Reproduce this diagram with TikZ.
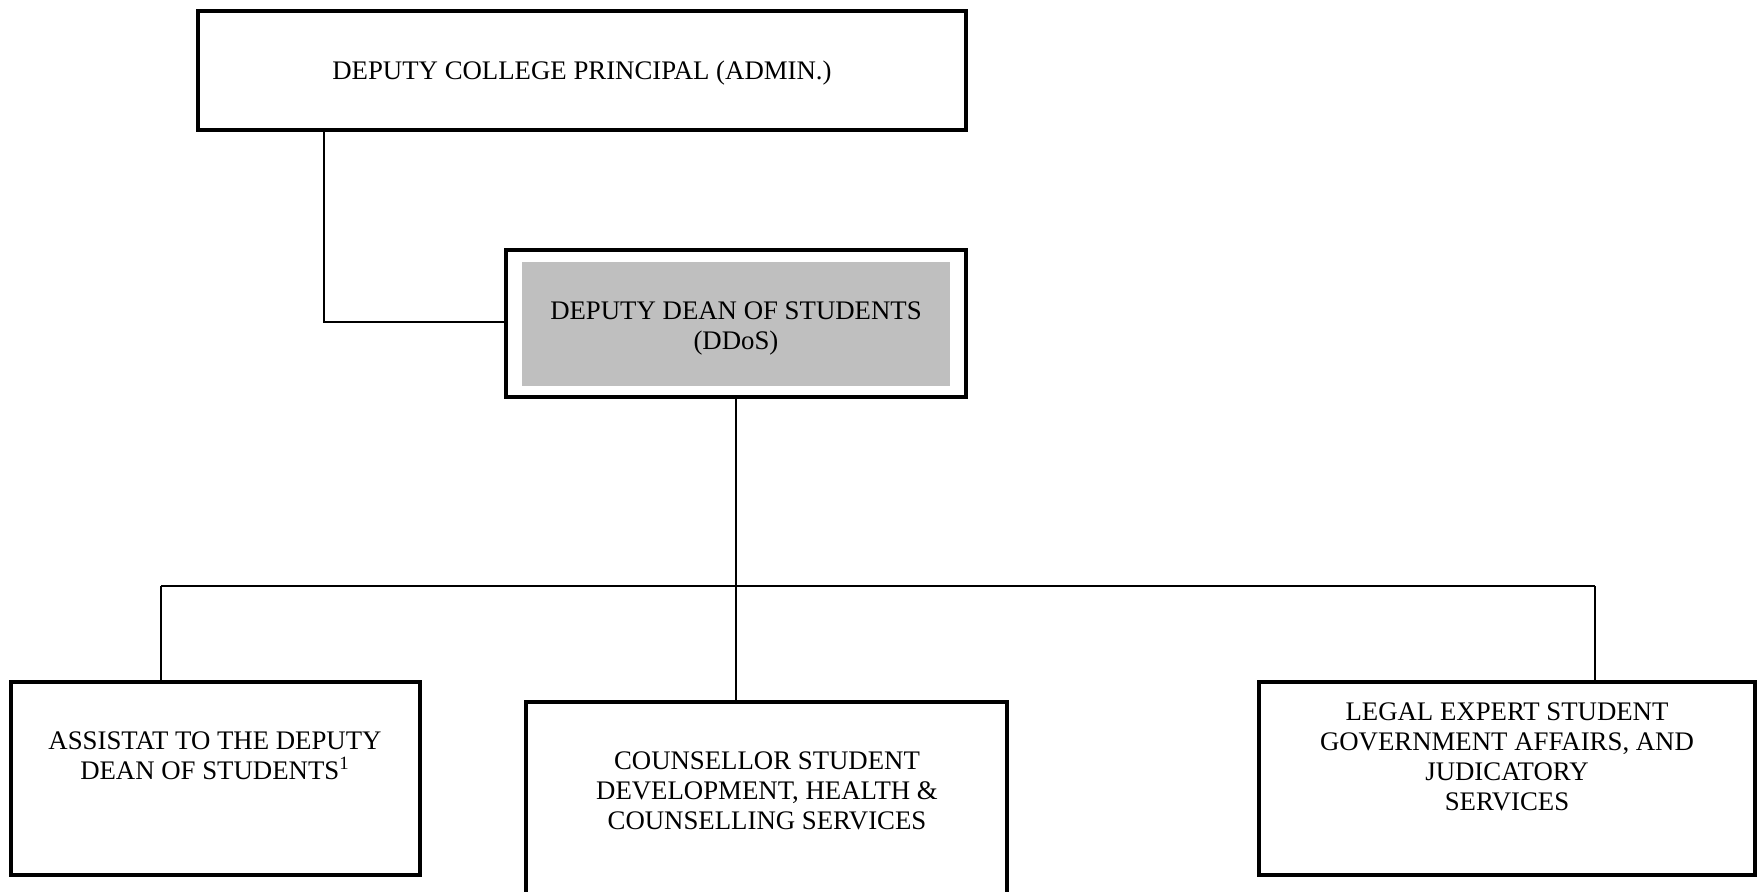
\documentclass[tikz,border=0pt]{standalone}
\usepackage{fontspec}
\setmainfont{Liberation Serif}
\begin{document}
\begin{tikzpicture}[x=0.5pt,y=-0.5pt,
  box/.style={draw=black, line width=1.7pt, rectangle, inner sep=0pt, fill=white},
  grayin/.style={fill=ddosgray, draw=none, rectangle, inner sep=0pt},
  txt/.style={align=center, inner sep=0pt, font=\fontsize{13.4}{15}\selectfont},
  conn/.style={draw=black, line width=0.75pt}]
\definecolor{ddosgray}{HTML}{BFBFBF}
\useasboundingbox (0,0) rectangle (1758,891);
\begin{scope}
\clip (0,0) rectangle (1758,891);
% boxes
\node[box, minimum width=384pt, minimum height=59.5pt] (top) at (582,70.5) {};
\node[box, minimum width=230pt, minimum height=73.5pt] (ddos) at (736,323.5) {};
\node[grayin, minimum width=214pt, minimum height=62pt] (ddosin) at (736,324) {};
\node[box, minimum width=204.5pt, minimum height=96.5pt] (left) at (215.5,778.5) {};
\node[box, minimum width=240.5pt, minimum height=109pt] (mid) at (766.5,811) {};
\node[box, minimum width=248pt, minimum height=96.5pt] (right) at (1507,778.5) {};
% texts
\node[txt] (topt) at (582,73.5) {DEPUTY COLLEGE PRINCIPAL (ADMIN.)};
\node[txt] (ddost) at (736,328) {DEPUTY DEAN OF STUDENTS\\(DDoS)};
\node[txt] (leftt) at (215,756) {ASSISTAT TO THE DEPUTY\\DEAN OF STUDENTS\textsuperscript{1}};
\node[txt] (midt) at (767,791) {COUNSELLOR STUDENT\\DEVELOPMENT, HEALTH \&\\COUNSELLING SERVICES};
\node[txt] (rightt) at (1507,757) {LEGAL EXPERT STUDENT\\GOVERNMENT AFFAIRS, AND\\JUDICATORY\\SERVICES};
% connectors
\coordinate (tl) at (324,322);
\draw[conn] (top.south -| tl) -- (tl) -- (tl -| ddos.west);
\draw[conn] (ddos.south) -- (ddos.south |- mid.north);
\coordinate (bl) at (161,586);
\coordinate (br) at (1595,586);
\draw[conn] (bl) -- (br);
\draw[conn] (bl) -- (bl |- left.north);
\draw[conn] (br) -- (br |- right.north);
\end{scope}
\end{tikzpicture}
\end{document}
